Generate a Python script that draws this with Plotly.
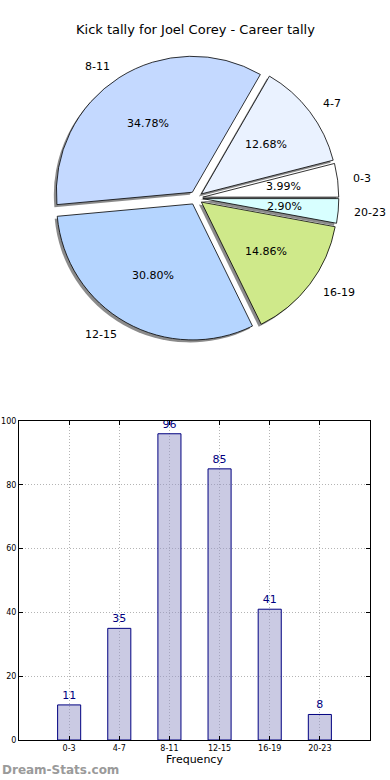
import math
import plotly.graph_objects as go

# ---------------- data ----------------
categories = ["0-3", "4-7", "8-11", "12-15", "16-19", "20-23"]
counts = [11, 35, 96, 85, 41, 8]
pie_colors = ["#ffffff", "#eaf2ff", "#c4d9ff", "#b5d5ff", "#cfe98a", "#d8ffff"]
explode = [0.05, 0.05, 0.05, 0.05, 0.05, 0.05]
title_text = "Kick tally for Joel Corey - Career tally"
y_ticks = [0, 20, 40, 60, 80, 100]

# ---------------- layout geometry ----------------
W, H = 390, 780
FONT = "DejaVu Sans"
cx_px, cy_px = 196, 198
r_px = 136
half = r_px * (1 + max(explode))
total = sum(counts)
# plotly anchors the first counterclockwise slice so that it ends at the rotation angle;
# shift so that the first slice starts at 3 o'clock (matplotlib default)
rot = 90 - 360.0 * counts[0] / total


def dom(cx, cy):
    return dict(x=[(cx - half) / W, (cx + half) / W],
                y=[1 - (cy + half) / H, 1 - (cy - half) / H])


fig = go.Figure()

# shadow pie
fig.add_trace(go.Pie(
    values=counts, labels=categories, sort=False, direction="counterclockwise",
    rotation=rot, pull=explode, domain=dom(cx_px - 2.5, cy_px + 2.5),
    marker=dict(colors=["rgba(90,90,90,0.7)"] * len(counts), line=dict(width=0)),
    textinfo="none", hoverinfo="skip", showlegend=False))

# main pie
fig.add_trace(go.Pie(
    values=counts, labels=categories, sort=False, direction="counterclockwise",
    rotation=rot, pull=explode, domain=dom(cx_px, cy_px),
    marker=dict(colors=pie_colors, line=dict(color="black", width=0.8)),
    textinfo="none", showlegend=False))

# pie labels (positions derived from the data angles)
annotations = []
start = 0.0
for cat, v, ex in zip(categories, counts, explode):
    span = 360.0 * v / total
    mid = math.radians(start + span / 2)
    start += span
    c, s = math.cos(mid), math.sin(mid)
    d_lab = (ex + 1.1) * r_px
    d_pct = (ex + 0.6) * r_px
    lx, ly = cx_px + d_lab * c, cy_px - d_lab * s
    px, py = cx_px + d_pct * c, cy_px - d_pct * s
    annotations.append(dict(
        x=lx / W, y=1 - ly / H, xref="paper", yref="paper", text=cat,
        showarrow=False, xanchor="left" if c > 0 else "right", yanchor="middle",
        font=dict(family=FONT, size=11, color="black")))
    annotations.append(dict(
        x=px / W, y=1 - py / H, xref="paper", yref="paper",
        text=f"{100.0 * v / total:.2f}%",
        showarrow=False, xanchor="center", yanchor="middle",
        font=dict(family=FONT, size=11, color="black")))

# title
annotations.append(dict(
    x=195 / W, y=1 - 30 / H, xref="paper", yref="paper", text=title_text,
    showarrow=False, xanchor="center", yanchor="middle",
    font=dict(family=FONT, size=13, color="black")))

# watermark
annotations.append(dict(
    x=0, y=1 - 770 / H, xref="paper", yref="paper", text="<b>Dream-Stats.com</b>",
    showarrow=False, xanchor="left", yanchor="middle",
    font=dict(family=FONT, size=12, color="#9a9a9a")))

# bar chart
fig.add_trace(go.Bar(
    x=categories, y=counts, width=0.46,
    marker=dict(color="rgba(150,150,200,0.5)", line=dict(color="#000080", width=1)),
    text=[str(c) for c in counts], textposition="outside",
    textfont=dict(family=FONT, size=11, color="#000080"),
    cliponaxis=False, constraintext="none", showlegend=False,
    xaxis="x", yaxis="y"))

GRID = dict(showgrid=True, gridcolor="#b4b4b4", griddash="1px,2px", gridwidth=1)
fig.update_layout(
    width=W, height=H, margin=dict(l=0, r=0, t=0, b=0, autoexpand=False),
    paper_bgcolor="white", plot_bgcolor="white",
    annotations=annotations,
    xaxis=dict(domain=[19 / W, 370 / W], type="category", range=[-1, 6],
               automargin=False,
               showline=True, linecolor="black", linewidth=1, mirror="allticks",
               ticks="inside", ticklen=4, tickcolor="black",
               tickfont=dict(family=FONT, size=8, color="black"),
               title=dict(text="Frequency", standoff=2,
                          font=dict(family=FONT, size=11, color="black")),
               zeroline=False, **GRID),
    yaxis=dict(domain=[1 - 740 / H, 1 - 421 / H], range=[0, 100],
               tickvals=y_ticks, automargin=False,
               showline=True, linecolor="black", linewidth=1, mirror="allticks",
               ticks="inside", ticklen=4, tickcolor="black",
               tickfont=dict(family=FONT, size=8, color="black"),
               zeroline=False, **GRID),
)

fig.write_html("out.html",
               config={"displayModeBar": False, "responsive": False},
               post_script="document.body.style.margin='0px';"
                           "document.body.style.overflow='hidden';")
